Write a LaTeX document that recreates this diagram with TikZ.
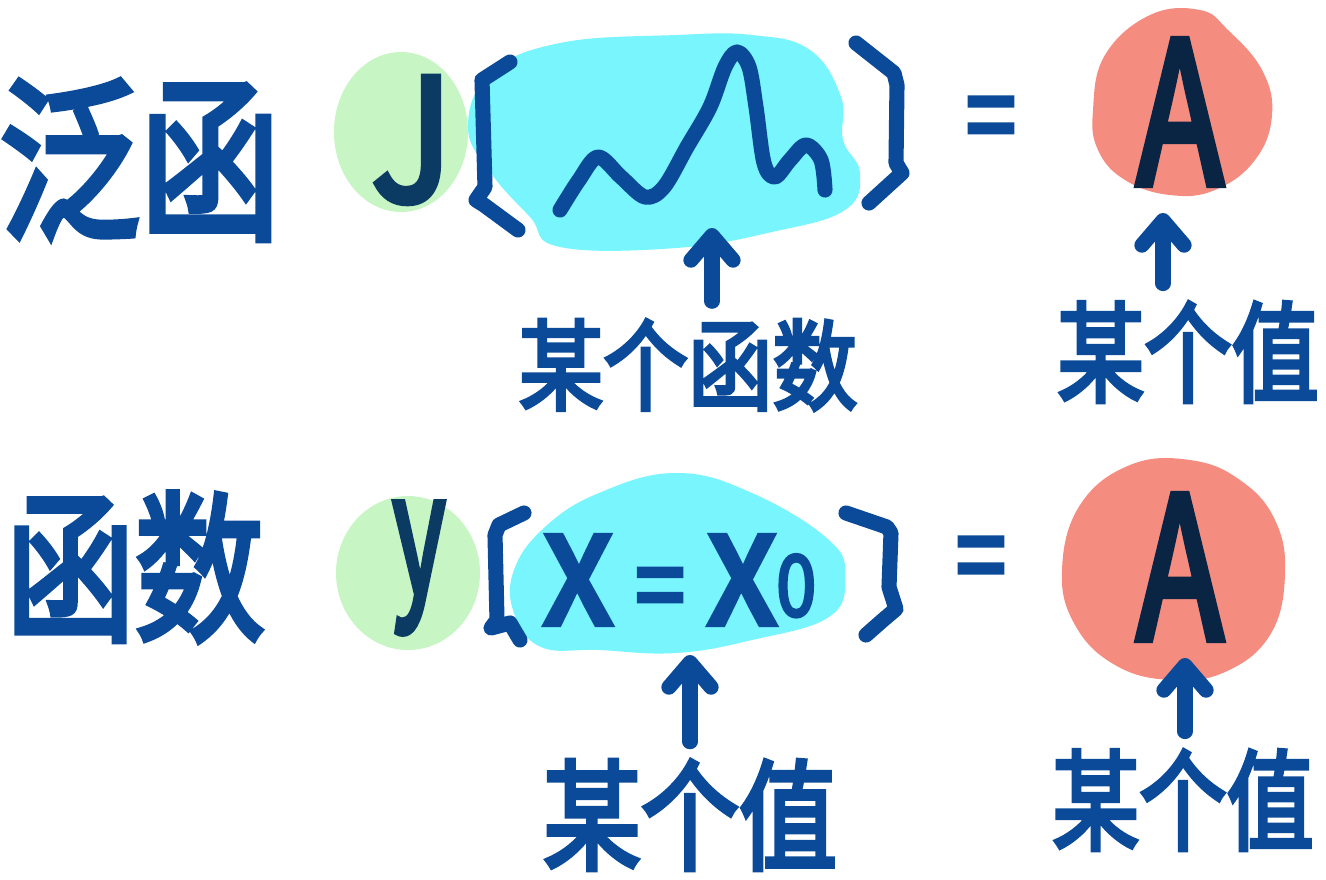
\documentclass[tikz,border=0pt]{standalone}
\usepackage{fontspec}
\newfontfamily\hand[FakeBold=4]{Noto Sans CJK SC}
\usetikzlibrary{arrows.meta}
\definecolor{inkblue}{HTML}{0A4A98}
\definecolor{inknavy}{HTML}{0B3A63}
\definecolor{inkdark}{HTML}{0A2444}
\definecolor{mint}{HTML}{C8F5C4}
\definecolor{aqua}{HTML}{78F5FD}
\definecolor{salmon}{HTML}{F48C80}
\newcommand{\fs}[1]{\hand\fontsize{#1}{#1}\selectfont}
\begin{document}
\begin{tikzpicture}[x=0.1mm,y=-0.1mm,
	pen/.style={draw=inkblue,line width=4.3pt,line cap=round,line join=round},
	arr/.style={pen,shorten <=5pt,-{Straight Barb[length=7pt,width=12pt,round]}},
	word/.style={text=inkblue,inner sep=0pt}]
	\useasboundingbox (0,0) rectangle (1326,879);
	% blobs
	\fill[mint] (401,132) ellipse (67 and 80);
	\fill[mint] (408,573) ellipse (72 and 77);
	\fill[aqua] plot[smooth cycle,tension=0.7] coordinates {(468,127)(491,73)(560,43)(676,35)(752,35)(810,50)(841,97)(843,140)(860,173)(845,210)(772,232)(676,248)(560,247)(530,217)(491,173)};
	\fill[aqua] plot[smooth cycle,tension=0.7] coordinates {(514,570)(545,527)(599,493)(676,473)(752,493)(829,540)(845,577)(829,617)(752,640)(676,653)(599,650)(541,647)(514,613)};
	\fill[salmon] plot[smooth cycle,tension=0.7] coordinates {(1093,110)(1105,55)(1150,15)(1200,10)(1228,30)(1262,70)(1272,115)(1255,160)(1215,190)(1170,195)(1125,180)(1098,150)};
	\fill[salmon] plot[smooth cycle,tension=0.7] coordinates {(1062,570)(1080,505)(1130,465)(1190,460)(1240,480)(1275,520)(1285,575)(1270,635)(1225,672)(1170,680)(1115,665)(1075,625)};
	% row 1
	\node[word,xscale=0.8] (fanhan) at (140,160) {\fs{50}泛函};
	\node[text=inknavy,inner sep=0pt,xscale=0.9] (J) at (412,140) {\fs{48}J};
	\draw[pen] (510,62) -- (482,80) -- (485,187) -- (476,200) -- (484,205) -- (518,230);
	\draw[pen] (856,43) -- (894,73) -- (897,85) -- (896,163) -- (902,173) -- (869,203);
	\draw[pen] plot[smooth,tension=0.55] coordinates {(560,210)(579,180)(598,157)(621,177)(645,197)(664,187)(687,147)(710,107)(725,67)(737,52)(749,67)(756,107)(764,163)(775,177)(790,160)(806,145)(821,160)(825,190)};
	\node[word,xscale=0.8] (eq1) at (991,127) {\fs{32}=};
	\node[text=inkdark,inner sep=0pt,xscale=0.72] (A1) at (1180,112) {\fs{56}A};
	\node[word,xscale=0.86] (somefn) at (688,365) {\fs{28}某个函数};
	\node[word,xscale=0.8] (someval1) at (1188,352) {\fs{31}某个值};
	\coordinate (fntip) at (712,228);
	\coordinate (valtip1) at (1163,213);
	\draw[arr] (somefn.north -| fntip) -- (fntip);
	\draw[arr] (someval1.north -| valtip1) -- (valtip1);
	% row 2
	\node[word,xscale=0.8] (hanshu) at (135,567) {\fs{46}函数};
	\node[text=inknavy,inner sep=0pt,xscale=0.6] (y) at (419,568) {\fs{48}y};
	\draw[pen] (524,513) -- (499,525) -- (495,535) -- (497,620) -- (491,628) -- (510,623) -- (520,640);
	\draw[pen] (846,513) -- (887,527) -- (891,533) -- (889,587) -- (896,609) -- (883,620) -- (866,635);
	\node[word,xscale=0.85] (xeq) at (680,580) {\fs{46}x\,{\fs{30}=}\,x\raisebox{0.05em}{\fs{24}0}};
	\node[word,xscale=0.8] (eq2) at (981,567) {\fs{32}=};
	\node[text=inkdark,inner sep=0pt,xscale=0.72] (A2) at (1180,567) {\fs{56}A};
	\node[word,xscale=0.82] (someval2) at (690,815) {\fs{34}某个值};
	\node[word,xscale=0.8] (someval3) at (1183,800) {\fs{31}某个值};
	\coordinate (valtip2) at (690,655);
	\coordinate (valtip3) at (1185,658);
	\draw[arr] (someval2.north -| valtip2) -- (valtip2);
	\draw[arr] (someval3.north -| valtip3) -- (valtip3);
\end{tikzpicture}
\end{document}
